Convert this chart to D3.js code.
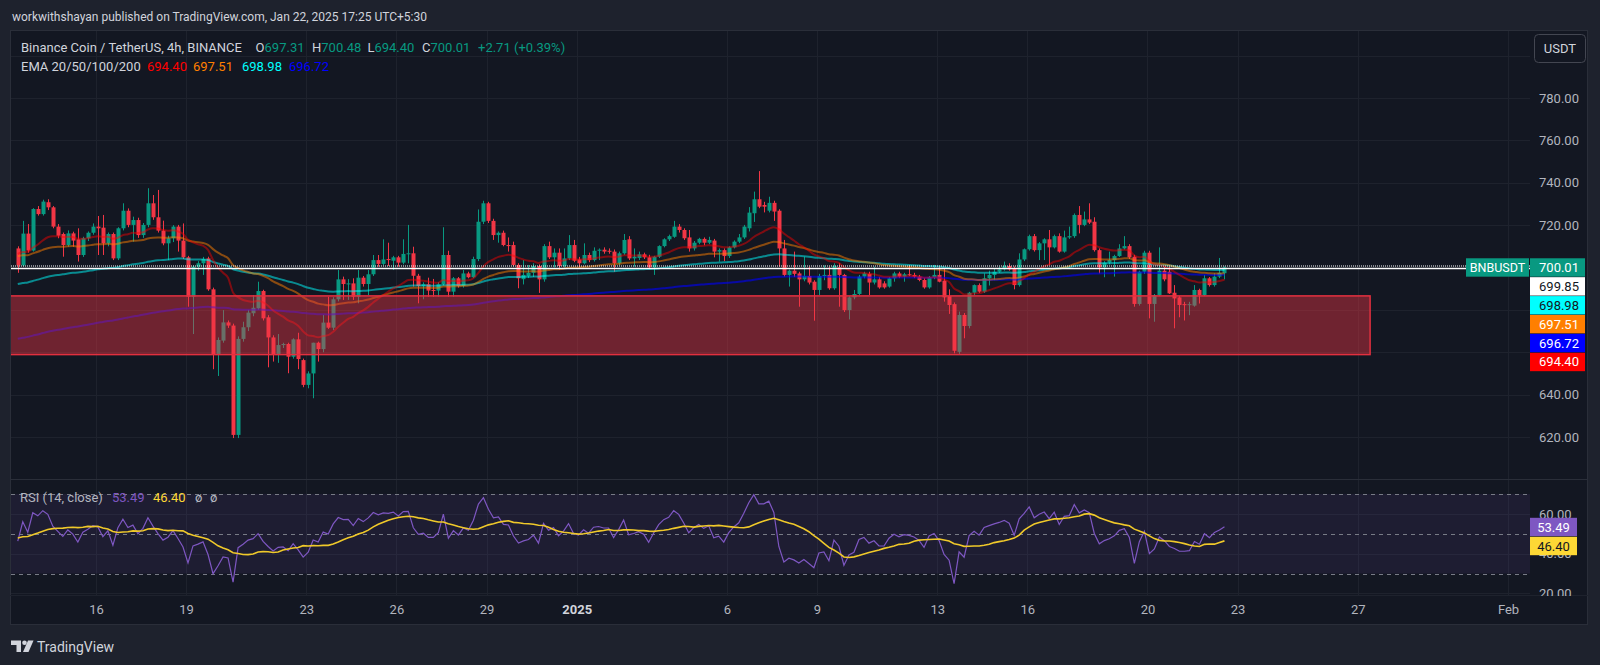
<!DOCTYPE html>
<html><head><meta charset="utf-8">
<script src="https://cdn.jsdelivr.net/npm/d3@7"></script>
<style>
html,body{margin:0;padding:0;background:#1e222d;overflow:hidden;}
svg{display:block;font-family:Roboto,"Noto Sans",sans-serif;}
</style></head><body>
<svg id="c" width="1600" height="665"></svg>
<script>
// ---------------- DATA ----------------
const opens=[709,701,716,708,727.6,725.2,730.8,728.4,719.3,715.8,
710.6,716.1,713.3,705.9,713.8,716.4,719.3,718.8,711.4,715.8,
704.3,718.5,726.8,720.1,722.4,715.3,720.1,730.3,723.7,717.4,
711.4,713.8,719.3,712.7,704.8,686.2,700.4,702,704.3,689.7,
658.7,665.5,674.1,672.6,621,666.3,671.8,678.4,680.7,688.9,
676.5,667,658.7,663.4,663.9,657.9,666.1,656.3,644.6,650,
664.5,661.5,674,671.6,685,694.4,692.2,692.5,686.2,695.2,
692.2,696.8,703.5,701.7,704,703.2,704.8,702.3,706.4,706.7,
696.1,691.3,692.1,689.4,689.1,692.1,705.9,688.6,694.9,691.3,
697.2,695.4,704,721.6,730.3,722,715.3,716.4,710.6,710.6,
701.2,694.5,696,697.5,700.7,694.4,710.1,704.8,707,700.7,
704.3,710.6,703.8,702,705.9,703.5,707.9,708.4,707.9,707.5,
702,706.7,713.3,704.3,704.5,706.2,704.8,700.1,705.1,710.1,
713.3,714.5,719.3,717.7,714.2,709,711.7,713.5,711.7,712.7,
707.5,708.2,705.4,709.5,712.2,714.2,718.5,725.6,732.2,729.5,
726.8,730.5,726.8,709,696.5,698.5,697.2,694.4,696,693.3,
689.4,696,696.5,690.2,700.1,696.5,679.9,685.9,687.5,695.7,
697,692.9,694.4,692.5,691,694.9,697.2,695.7,696.8,696.5,
695.7,694.1,690.6,695.4,696.5,693.8,686.5,682.7,660.2,677.6,
672.4,688.1,691.7,688.6,694.9,696.5,698,699.1,700.7,699.6,
691.7,703.8,708.6,714.8,708.2,711.4,713.3,709.5,714.8,707.5,
714.2,714.8,724.8,720.1,722.7,721.6,708.2,700.1,702.3,703.5,
705.4,709,710.1,705.1,682.8,698,707,682.8,687,698.5,
698,688.1,685.9,682.7,682.3,682,689.4,687,694.9,691.7,
695.7,697.31];
const highs=[710,722,720.5,728,729,732,732.2,729,720.5,716.5,
717.5,716.9,718.5,714.5,717,720.8,724.3,724.8,716.5,716.5,
719,730.3,727.9,724,723.5,721,737.4,734.2,736.6,722.1,
715,720,720.1,720.8,705.5,701,703,705,705.1,690.5,
667,679.9,675,673.5,667.5,674.4,680,687,693.3,689.5,
677.5,668,668.6,664.5,664.5,666.6,669.2,657,651,664.5,
665,677.6,686.2,686,698.8,695.7,694.5,694.9,698.8,696,
698.8,705.9,705.9,713.3,711.7,705.5,705.5,713.3,720.1,709.8,
697,693,695.2,694.6,693,719,707.9,695.5,695.5,698.8,
698,705.1,727.4,731.5,731,723,717,717.4,714.2,712.2,
702,703.5,701.2,702,701.5,711,712.2,709,709,709,
715.3,713,705,711.4,707,709.5,709,709.5,709,708.5,
707.5,715.8,714.8,709,707.5,707,706,705.5,710.5,713.8,
715.5,722,720.5,718.5,717.7,712.5,714,714.2,714.5,713.5,
709,709,710,712.8,715.8,720.1,728.5,735.8,745.5,731,
733.4,731.5,727.5,713,699,707.5,698,705.1,700.4,694,
697,701,700.4,702,702,697,686.5,689.4,696.5,698,
698,700.4,695.5,693.5,695.5,698,698,697.5,701.2,697.5,
696.5,695,696,701.2,700.4,699.6,689.7,683.5,679.2,678.5,
688.5,692,692.5,697.2,698.5,699.6,700.4,702.8,702,700.5,
706.7,709,715.5,715.8,712,713.8,717.7,715.5,716.1,717.4,
719.3,725.5,729,726.4,730.3,723.7,709,703,707.5,706,
711,714.8,711,706,698.5,707.9,707.9,687.5,709.5,700.4,
700.4,691.7,686.5,683.8,683.8,691.7,690,696.5,695.5,697.2,
704.5,700.48];
const lows=[697.5,700.5,707,707.5,724.5,724.5,727.1,718.5,713.8,705.1,
709.8,709.8,702.8,705,712.5,715.5,705.9,705.9,710,703.5,
703.5,717.5,719,712.2,714,714,719,722.5,716.5,710.5,
703.5,712,707.5,704,681.5,668.6,698.5,696.5,689,652,
648.8,664.5,671.5,619.5,619.5,665,670,677,680,675,
652.9,655.6,655,662,650.1,657,652,643.5,643,638.3,
655.6,660,671,670.5,684,684.7,684.7,684.7,683.1,691,
687,696,700.4,701,700.7,698.8,700.4,701.5,702,691,
683.1,685,686.2,686.2,686.2,691.5,686.2,686.2,690.5,690.5,
694.9,695,703,720.5,721,713,711.7,710,707.5,700.5,
690.2,692,695,695.5,688,693.3,704,700,699,700,
703.5,702.5,700,701.5,702.5,702.8,703.5,706.5,706.5,698,
701,706,703.5,700.4,703.5,704,699.5,696.5,704.5,709.5,
712.5,714,716.5,713,707.5,708,711,710.5,711,704.8,
702.8,703,704.5,709,711.5,713.5,717,721.5,728,726,
726,722,700.4,695.7,691,695.5,681.5,693.5,692,674.9,
687,694,689.5,689.5,681.5,679,675.5,685,687,694.9,
687,692,690,690,690.5,693.3,695,693.3,696,695,
693.5,690,690,694.5,693,683.9,678.1,659.5,659,666.6,
671.3,687,688,688,691.5,694,697.5,698.5,698.5,689.7,
691,703,708,707.5,703.5,703.5,701.2,709,707,707,
713.5,714,716.1,719.5,720.5,707.5,697.2,695.4,701.5,695.7,
705,708.5,704,681.5,682,697,676,674.4,686.5,693.5,
687.5,671.3,676.5,675,677.5,681.5,683,686.5,691,691,
695,694.40];
const closes=[701,716,708,727.6,725.2,731.1,728.4,719.3,715,710.6,
716.1,712.7,705.9,713.8,716.4,719.3,718.5,711.4,715.8,704.3,
718.5,726.8,720.1,722.4,715.3,720.1,730.3,723.7,717.4,711.4,
713.8,719.3,712.7,704.8,686.2,700.4,702,704,689.7,658.7,
665.8,674.1,672.6,621,666.3,671.8,678.7,681,688.9,676,
667,658.7,663.4,663.9,657.9,666.1,656.8,644.6,650,664.5,
661.5,674,671.6,685,694.4,692.2,692.5,686.2,695.2,692.2,
696.8,703.5,701.7,703.8,703.5,704.8,702.3,706.4,706.7,696.1,
691.3,692.1,689.1,689.1,692.1,705.9,688.6,694.9,691.3,697.2,
695.4,704,721.6,730.3,722,715.3,716.4,710.6,710.1,701.2,
694.9,696.5,697.5,700.7,694.4,710.1,704.8,707,700.7,704.3,
710.6,703.2,702,705.9,703.5,707.9,708.4,707.5,707.5,702,
706.7,713,704.3,705.1,706.2,704.8,700.1,705.1,710.1,713.3,
714.8,719.3,717.7,713.8,709,711.7,713.5,711.7,713,707.5,
708.2,705.4,709.5,712.2,714.2,719.3,725.9,732.2,728.7,728.7,
730.5,726.4,709,696.5,698.5,697,694.4,696,692.9,689.4,
696,696.5,690.2,700.7,696.5,679.9,685.9,687.5,695.7,697.2,
692.9,694.4,690.6,690.6,694.9,697.2,695.7,696.8,696.5,695.7,
694.1,690.6,695.4,696.5,693.3,685.9,682.3,660.7,677.6,672.4,
688.1,691.7,688.6,694.9,696.5,698,699.1,700.7,699.1,691.7,
703.8,708.6,714.8,708.2,711.4,713.3,709.5,714.8,707.5,714.2,
714.8,724.8,720.1,722.7,721.2,708.2,700.1,702.3,703.5,705.4,
709,710.1,704.8,682.8,698,707,682.8,687,698.5,694.4,
687.8,685.4,682.3,682.3,682.7,689.4,687,694.9,691.7,695.7,
697.5,700.01];

const firstBar = Date.UTC(2024,11,13,9,30);   // first 4h candle (chart clock)
const barMs = 4*3600*1000;

const priceTicks=[620,640,660,680,700,720,740,760,780,800];   // grid lines
const priceTickLabels=[620,640,720,740,760,780];               // labels not hidden by markers
const rsiTicks=[20,40,60];
const timeTicks=[Date.UTC(2024,11,16),Date.UTC(2024,11,19),Date.UTC(2024,11,23),Date.UTC(2024,11,26),
  Date.UTC(2024,11,29),Date.UTC(2025,0,1),Date.UTC(2025,0,6),Date.UTC(2025,0,9),Date.UTC(2025,0,13),
  Date.UTC(2025,0,16),Date.UTC(2025,0,20),Date.UTC(2025,0,23),Date.UTC(2025,0,27),Date.UTC(2025,1,1)];
const timeLabels=["16","19","23","26","29","2025","6","9","13","16","20","23","27","Feb"];

const emaPeriods=[20,50,100,200];
const emaSeeds=[707,705.5,692,666];          // EMA levels at the left edge
const emaColors=["#ff0000","#ff7f00","#00ffff","#0000ff"];
const emaLegend=["694.40","697.51","698.98","696.72"];

const rsiPeriod=14, rsiSeedGain=2.6, rsiSeedLoss=2.4, rsiPrior=48;

const ohlcLegend=["697.31","700.48","694.40","700.01"];
const changeLegend="+2.71 (+0.39%)";
const rsiLegend=["53.49","46.40"];

const zoneStart=Date.UTC(2024,11,12), zoneEnd=Date.UTC(2025,0,27,9,50);
const zoneTop=686.6, zoneBottom=658.9;
const hLinePrice=699.85, lastPrice=700.01;

const axisLabelText=["700.01","699.85","698.98","697.51","696.72","694.40"];
const axisLabelBg=["#089981","#ffffff","#00ffff","#ff7f00","#0000ff","#ff0000"];
const axisLabelFg=["#ffffff","#131722","#131722","#ffffff","#ffffff","#ffffff"];

// ---------------- LAYOUT ----------------
const L=10, R=1588, PR=1530, TOP=30, PB=479.5, RT=480, RB=595, BOT=625;
const svg=d3.select("#c");
const x=d3.scaleUtc().domain([Date.UTC(2024,11,16),Date.UTC(2025,1,1)]).range([96,1508]);
const y=d3.scaleLinear().domain([600,800]).range([479.4,55.6]);
const yr=d3.scaleLinear().domain([30,70]).range([573.5,494]);

const bars=closes.map((c,i)=>({t:firstBar+i*barMs,o:opens[i],h:highs[i],l:lows[i],c}));

// EMA
function ema(vals,n,seed){const a=2/(n+1);let e=seed;return vals.map(v=>(e=a*v+(1-a)*e));}
const emas=emaPeriods.map((n,k)=>ema(closes,n,emaSeeds[k]));
// RSI (Wilder) + SMA
let ag=rsiSeedGain, al=rsiSeedLoss, prev=opens[0];
const rsi=closes.map(c=>{const ch=c-prev;prev=c;ag=(ag*(rsiPeriod-1)+Math.max(ch,0))/rsiPeriod;al=(al*(rsiPeriod-1)+Math.max(-ch,0))/rsiPeriod;return 100-100/(1+ag/al);});
const rsiMa=rsi.map((v,i)=>{let s=0;for(let k=i-rsiPeriod+1;k<=i;k++)s+=k>=0?rsi[k]:rsiPrior;return s/rsiPeriod;});

// backgrounds
svg.append("rect").attr("width",1600).attr("height",665).attr("fill","#1e222d");
svg.append("rect").attr("x",L+0.5).attr("y",TOP+0.5).attr("width",R-L-1).attr("height",BOT-TOP-1)
  .attr("fill","#131722").attr("stroke","#2a2e39");

const defs=svg.append("defs");
defs.append("clipPath").attr("id","cp").append("rect").attr("x",L+1).attr("y",TOP+1).attr("width",PR-L-1).attr("height",PB-TOP-1);
defs.append("clipPath").attr("id","cr").append("rect").attr("x",L+1).attr("y",RT).attr("width",PR-L-1).attr("height",RB-RT);

// grid
const grid=svg.append("g").attr("stroke","#1e222d").attr("stroke-width",1);
grid.selectAll("line.v").data(timeTicks).join("line").attr("x1",d=>Math.round(x(d))+0.5).attr("x2",d=>Math.round(x(d))+0.5)
  .attr("y1",TOP+1).attr("y2",RB);
grid.selectAll("line.h").data(priceTicks).join("line").attr("x1",L+1).attr("x2",PR)
  .attr("y1",d=>Math.round(y(d))+0.5).attr("y2",d=>Math.round(y(d))+0.5);
grid.selectAll("line.r").data(rsiTicks).join("line").attr("x1",L+1).attr("x2",PR)
  .attr("y1",d=>Math.round(yr(d))+0.5).attr("y2",d=>Math.round(yr(d))+0.5);
// pane separators
svg.append("line").attr("x1",L).attr("x2",R).attr("y1",PB).attr("y2",PB).attr("stroke","#2a2e39");
svg.append("line").attr("x1",L).attr("x2",R).attr("y1",RB+0.5).attr("y2",RB+0.5).attr("stroke","#1e222d");

// RSI band
svg.append("rect").attr("x",L+1).attr("width",PR-L-1).attr("y",yr(70)).attr("height",yr(30)-yr(70)).attr("fill","rgba(126,87,194,0.1)");
svg.append("g").selectAll("line").data([70,50,30]).join("line").attr("x1",L+1).attr("x2",PR)
  .attr("y1",d=>Math.round(yr(d))+0.5).attr("y2",d=>Math.round(yr(d))+0.5)
  .attr("stroke","#787b86").attr("stroke-dasharray","4,4");

// candles
const up="#089981", dn="#f23645";
const cg=svg.append("g").attr("clip-path","url(#cp)");
const cs=cg.selectAll("g").data(bars).join("g");
cs.append("line").attr("x1",d=>Math.round(x(d.t))+0.5).attr("x2",d=>Math.round(x(d.t))+0.5)
  .attr("y1",d=>y(d.h)).attr("y2",d=>y(d.l)).attr("stroke",d=>d.c>=d.o?up:dn);
cs.append("rect").attr("x",d=>Math.round(x(d.t))-1.5).attr("width",4)
  .attr("y",d=>y(Math.max(d.o,d.c))).attr("height",d=>Math.max(1,Math.abs(y(d.o)-y(d.c))))
  .attr("fill",d=>d.c>=d.o?up:dn);

// EMAs
const eg=svg.append("g").attr("clip-path","url(#cp)");
const ln=d3.line().x((d,i)=>x(bars[i].t)).y(d=>y(d)).curve(d3.curveMonotoneX);
[3,2,1,0].forEach(k=>{
  eg.append("path").attr("d",ln(emas[k])).attr("fill","none").attr("stroke",emaColors[k])
    .attr("stroke-width",2).attr("stroke-opacity",k===3?0.6:(k===0?0.45:0.5));
});

// zone
svg.append("g").attr("clip-path","url(#cp)").append("rect")
  .attr("x",x(zoneStart)).attr("width",x(zoneEnd)-x(zoneStart))
  .attr("y",y(zoneTop)).attr("height",y(zoneBottom)-y(zoneTop))
  .attr("fill","rgba(242,54,69,0.41)").attr("stroke","#e3303f").attr("stroke-width",1.5);

// horizontal lines
svg.append("line").attr("x1",L+1).attr("x2",PR).attr("y1",Math.round(y(hLinePrice))+0.5).attr("y2",Math.round(y(hLinePrice))+0.5)
  .attr("stroke","#ffffff").attr("stroke-width",1.5);
svg.append("line").attr("x1",L+1).attr("x2",PR).attr("y1",Math.round(y(lastPrice))-1).attr("y2",Math.round(y(lastPrice))-1)
  .attr("stroke","#ffffff").attr("stroke-width",1).attr("stroke-dasharray","1,1");

// RSI lines
const rg=svg.append("g").attr("clip-path","url(#cr)");
const rl=d3.line().x((d,i)=>x(bars[i].t)).y(d=>yr(d));
rg.append("path").attr("d",rl(rsi)).attr("fill","none").attr("stroke","#7e57c2").attr("stroke-width",1.2);
rg.append("path").attr("d",rl(rsiMa)).attr("fill","none").attr("stroke","#f0c92a").attr("stroke-width",1.6);

// axes
const txt="#b2b5be";
const pa=svg.append("g").attr("transform","translate(1539,0)")
  .call(d3.axisRight(y).tickValues(priceTickLabels).tickFormat(d3.format(".2f")).tickSize(0).tickPadding(0));
const ra=svg.append("g").attr("transform","translate(1539,0)")
  .call(d3.axisRight(yr).tickValues(rsiTicks).tickFormat(d3.format(".2f")).tickSize(0).tickPadding(0));
const ta=svg.append("g").attr("transform","translate(0,611)")
  .call(d3.axisBottom(x).tickValues(timeTicks).tickFormat((d,i)=>timeLabels[i]).tickSize(0).tickPadding(0));
[pa,ra,ta].forEach(a=>{a.select(".domain").remove();a.attr("font-family",null).attr("font-size",null);
  a.selectAll("text").attr("fill",txt).attr("font-size",13);});
ta.selectAll("text").attr("dy",null).attr("y",0).attr("dominant-baseline","middle")
  .attr("font-weight",(d,i)=>timeLabels[i]==="2025"?"bold":null).attr("fill",(d,i)=>timeLabels[i]==="2025"?"#d1d4dc":txt);
defs.append("clipPath").attr("id","rax").append("rect").attr("x",0).attr("y",480).attr("width",1600).attr("height",RB-480+1);
ra.attr("clip-path","url(#rax)");

// price axis labels (stacked)
const baseY=y(lastPrice);
const lg=svg.append("g").attr("font-size",13);
axisLabelText.forEach((t,i)=>{
  const cy=baseY+i*18.9;
  lg.append("rect").attr("x",1530).attr("y",cy-9.2).attr("width",55).attr("height",18.4).attr("fill",axisLabelBg[i]);
  lg.append("text").attr("x",1559).attr("y",cy).attr("text-anchor","middle").attr("dominant-baseline","central")
    .attr("fill",axisLabelFg[i]).text(t);
});
lg.append("rect").attr("x",1466).attr("y",baseY-9.2).attr("width",63).attr("height",18.4).attr("fill","#089981");
lg.append("text").attr("x",1497.5).attr("y",baseY).attr("text-anchor","middle").attr("dominant-baseline","central")
  .attr("fill","#ffffff").attr("font-size",12.5).text("BNBUSDT");

// RSI axis labels
const rsiBg=["#7e57c2","#fdd835"], rsiFg=["#ffffff","#131722"], rsiCy=[527,546];
rsiLegend.forEach((t,i)=>{
  lg.append("rect").attr("x",1530).attr("y",rsiCy[i]-9.2).attr("width",47).attr("height",18.4).attr("fill",rsiBg[i]);
  lg.append("text").attr("x",1553.5).attr("y",rsiCy[i]).attr("text-anchor","middle").attr("dominant-baseline","central")
    .attr("fill",rsiFg[i]).text(t);
});

// USDT button
svg.append("rect").attr("x",1534.5).attr("y",34.5).attr("width",51).attr("height",28).attr("rx",4)
  .attr("fill","#131722").attr("stroke","#434651");
svg.append("text").attr("x",1560).attr("y",48.5).attr("text-anchor","middle").attr("dominant-baseline","central")
  .attr("fill","#d1d4dc").attr("font-size",13).text("USDT");

// header
svg.append("text").attr("x",12).attr("y",16.5).attr("dominant-baseline","central").attr("fill","#d1d4dc")
  .attr("font-size",12).text("workwithshayan published on TradingView.com, Jan 22, 2025 17:25 UTC+5:30");

// legend line 1
const g1=svg.append("text").attr("y",47).attr("dominant-baseline","central").attr("font-size",13).attr("fill","#d1d4dc");
g1.append("tspan").attr("x",21).text("Binance Coin / TetherUS, 4h, BINANCE");
const ohlcX=[255.6,312,367.4,422], ohlcK=["O","H","L","C"];
ohlcK.forEach((k,i)=>{g1.append("tspan").attr("x",ohlcX[i]).text(k);g1.append("tspan").attr("fill",up).text(ohlcLegend[i]);});
g1.append("tspan").attr("x",478).attr("fill",up).text(changeLegend);

// legend line 2
const g2=svg.append("text").attr("y",65.5).attr("dominant-baseline","central").attr("font-size",13).attr("fill","#d1d4dc");
g2.append("tspan").attr("x",21).text("EMA 20/50/100/200");
const emaX=[147,193,242,289];
emaLegend.forEach((t,i)=>g2.append("tspan").attr("x",emaX[i]).attr("fill",emaColors[i]).text(t));

// RSI legend
const g3=svg.append("text").attr("y",497).attr("dominant-baseline","central").attr("font-size",13).attr("fill","#b2b5be");
g3.append("tspan").attr("x",20).text("RSI (14, close)");
g3.append("tspan").attr("x",112).attr("fill","#7e57c2").text(rsiLegend[0]);
g3.append("tspan").attr("x",153).attr("fill","#fdd835").text(rsiLegend[1]);
g3.append("tspan").attr("x",195).text("ø");
g3.append("tspan").attr("x",210).text("ø");

// TradingView logo
const lgo=svg.append("g").attr("fill","#d1d4dc");
lgo.append("path").attr("d","M11,640.5h10v11.5h-4.5v-7h-5.5z");
lgo.append("circle").attr("cx",24.5).attr("cy",642.8).attr("r",2.3);
lgo.append("path").attr("d","M28,640.5h5.5l-5,11.5h-5.5z");
svg.append("text").attr("x",37).attr("y",646.5).attr("dominant-baseline","central").attr("fill","#d1d4dc")
  .attr("font-size",14).text("TradingView");
</script>
</body></html>
